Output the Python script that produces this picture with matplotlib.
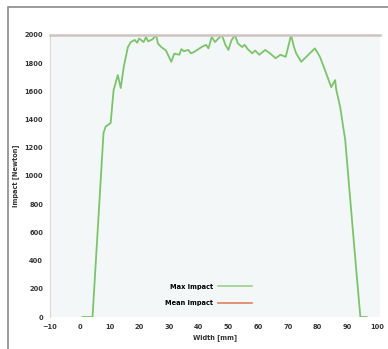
import matplotlib
matplotlib.use("Agg")
import matplotlib.pyplot as plt
from matplotlib.lines import Line2D
from matplotlib.patches import Rectangle

# Max impact profile
width_mm = [0.9, 3.9, 4.3, 8.0, 8.7, 10.4, 11.4, 12.8, 13.8, 14.8, 16.2, 17.2,
            18.5, 19.3, 20.0, 21.5, 22.3, 23.0, 24.5, 25.7, 26.3, 27.4, 29.0,
            30.8, 31.8, 33.5, 34.2, 35.0, 36.5, 37.4, 38.5, 41.0, 42.5, 43.3,
            44.4, 45.5, 46.6, 47.8, 49.0, 50.0, 51.0, 52.2, 53.2, 54.6, 55.5,
            56.5, 58.0, 59.0, 60.4, 62.4, 64.0, 65.9, 67.5, 69.3, 71.1, 72.0,
            72.8, 74.5, 76.2, 77.6, 79.1, 80.8, 82.9, 84.6, 85.9, 86.3, 87.6,
            89.3, 91.0, 93.1, 94.4, 96.5]
max_impact = [0, 0, 0, 1305, 1350, 1376, 1610, 1716, 1624, 1773, 1915, 1950,
              1965, 1945, 1975, 1950, 1985, 1955, 1970, 2000, 1940, 1915, 1890,
              1810, 1868, 1860, 1900, 1885, 1894, 1870, 1880, 1915, 1930, 1905,
              1986, 1950, 1975, 2000, 1930, 1894, 1960, 2000, 1940, 1915, 1930,
              1900, 1870, 1890, 1860, 1894, 1870, 1835, 1860, 1845, 2000, 1920,
              1870, 1810, 1845, 1875, 1905, 1845, 1728, 1630, 1680, 1610, 1490,
              1255, 830, 312, 0, 0]

x_ticks = list(range(-10, 101, 10))
y_ticks = list(range(0, 2001, 200))

fig = plt.figure(figsize=(3.88, 3.49), dpi=100)
fig.patches.append(Rectangle((8 / 388, -0.1), 1.2, 1 - 7 / 349 + 0.1,
                             transform=fig.transFigure, fill=False,
                             edgecolor='#8a8a8a', linewidth=1.2))
ax = fig.add_axes([50 / 388, 32 / 349, 330 / 388, 282 / 349])
ax.set_facecolor('#f3f7f8')

ax.plot(width_mm, max_impact, color='#7cc46a', linewidth=1.3)

ax.set_xlim(-10, 101)
ax.set_ylim(0, 2000)
ax.set_xticks(x_ticks)
ax.set_yticks(y_ticks)
ax.tick_params(length=0, labelsize=4.8, colors='#333333', pad=5)
for lbl in ax.get_xticklabels() + ax.get_yticklabels():
    lbl.set_fontweight('bold')

for side in ['right', 'bottom']:
    ax.spines[side].set_visible(False)
ax.spines['left'].set_color('#e0d8d0')
ax.spines['left'].set_linewidth(0.8)
ax.spines['top'].set_color('#cfc2c0')
ax.spines['top'].set_linewidth(1.8)

ax.set_xlabel("Width [mm]", fontsize=4.8, fontweight='bold', color='#333333',
              labelpad=3)
ax.set_ylabel("Impact [Newton]", fontsize=4.8, fontweight='bold',
              color='#333333', labelpad=4)

handles = [Line2D([], [], color='#9ccf8c', linewidth=1.2),
           Line2D([], [], color='#e0805e', linewidth=1.2)]
ax.legend(handles, ["Max Impact", "Mean Impact"], loc='center',
          bbox_to_anchor=(0.48, 0.078), frameon=False, markerfirst=False,
          prop={'weight': 'bold', 'size': 4.8},
          handlelength=5, labelspacing=1.6)

fig.savefig("out.png", dpi=100)
